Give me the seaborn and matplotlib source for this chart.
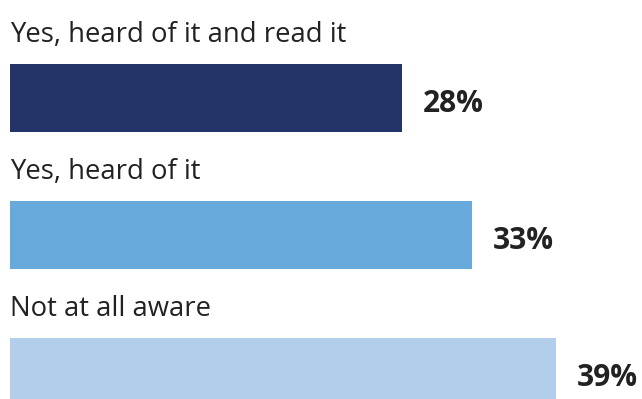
import matplotlib
matplotlib.use("Agg")
import matplotlib.pyplot as plt
import seaborn as sns
import pandas as pd

categories = ["Yes, heard of it and read it", "Yes, heard of it", "Not at all aware"]
values = [28, 33, 39]
colors = ["#243468", "#67A9DA", "#B3CEEA"]
value_labels = ["28%", "33%", "39%"]

sns.set_theme(style="white")
plt.rcParams['font.family'] = ['Open Sans', 'DejaVu Sans']

df = pd.DataFrame({"category": categories, "value": values})

fig = plt.figure(figsize=(6.42, 3.99), dpi=100)
ax = fig.add_axes([10/642, 0, 632/642, 1])
sns.barplot(data=df, y="category", x="value", hue="category",
            palette=dict(zip(categories, colors)), orient="h",
            width=0.5, legend=False, ax=ax, saturation=1, linewidth=0)
ax.set_xlim(0, 632/14)
ax.set_ylim((399-98)/137, -98/137)
ax.axis("off")

for i, (cat, v, lab) in enumerate(zip(categories, values, value_labels)):
    ax.text(0, i - 0.41, cat, ha="left", va="baseline", fontsize=19.8, color="#222222")
    ax.text(v + 1.5, i + 0.045, lab, ha="left", va="center", fontsize=21.5,
            fontweight="bold", color="#222222")

fig.savefig("out.png", dpi=100)
